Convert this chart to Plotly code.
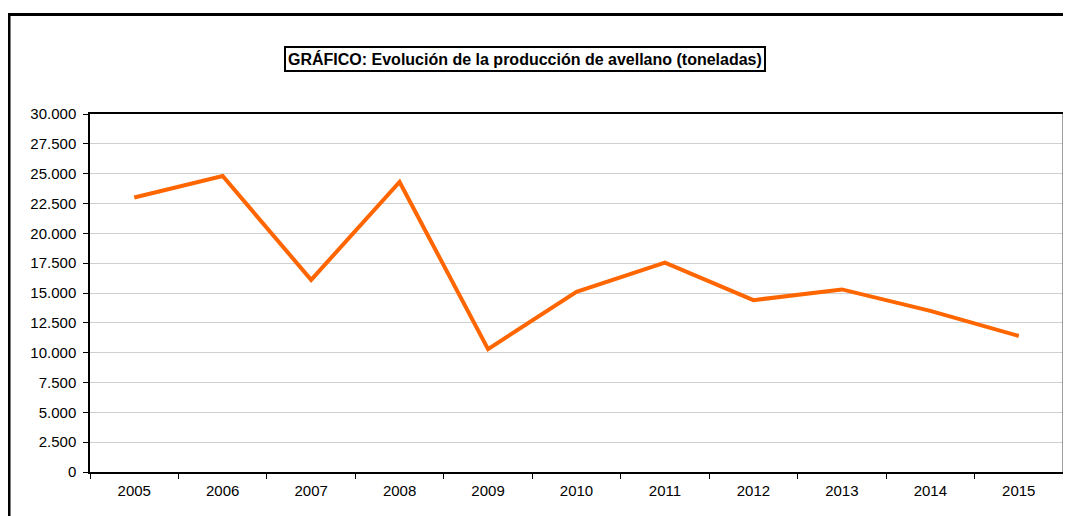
import plotly.graph_objects as go

years = ["2005", "2006", "2007", "2008", "2009", "2010", "2011", "2012", "2013", "2014", "2015"]
production = [23000, 24800, 16100, 24300, 10300, 15100, 17550, 14400, 15300, 13500, 11400]
title_text = "GRÁFICO: Evolución de la producción de avellano (toneladas)"

# the page body has an 8px margin, so the figure starts at (8, 8) on screen
OFF = 8
W, H = 1071, 516
L, T = 90 - OFF, 114 - OFF
R = W - (1063 - OFF)
B = H - (472 - OFF)
pw = W - L - R
ph = H - T - B

def px_x(x):
    return (x - OFF - L) / pw

def px_y(y):
    return 1 - (y - OFF - T) / ph

fig = go.Figure()
fig.add_trace(go.Scatter(
    x=years, y=production, mode="lines",
    line=dict(color="#FF6600", width=4),
    hoverinfo="x+y",
))

fig.update_layout(
    width=W, height=H,
    margin=dict(l=L, r=R, t=T, b=B, pad=0),
    paper_bgcolor="white", plot_bgcolor="white",
    font=dict(family="Liberation Sans, Arial, sans-serif", size=15, color="black"),
    separators=",.",
    showlegend=False,
    xaxis=dict(
        type="category", tickson="boundaries",
        showline=True, linecolor="black", linewidth=1.5, mirror=True,
        ticks="outside", ticklen=5, tickcolor="black",
        showgrid=False, zeroline=False,
        range=[-0.5, 10.5], ticklabelstandoff=4,
    ),
    yaxis=dict(
        range=[0, 30000], dtick=2500, tickformat=",d",
        showline=True, linecolor="black", linewidth=1.5,
        ticks="outside", ticklen=5, tickcolor="black",
        showgrid=True, gridcolor="#cfcfcf", gridwidth=1,
        zeroline=False, ticklabelstandoff=4,
    ),
    annotations=[dict(
        text="<b>" + title_text + "</b>",
        xref="paper", yref="paper",
        x=px_x(525), y=px_y(59), xanchor="center", yanchor="middle",
        showarrow=False,
        font=dict(size=16, color="black"),
        bordercolor="black", borderwidth=2, borderpad=2, bgcolor="white",
    )],
    shapes=[
        dict(type="line", xref="paper", yref="paper", x0=1, x1=1, y0=0, y1=1,
             line=dict(color="#808080", width=1.5)),
        dict(type="rect", xref="paper", yref="paper",
             x0=px_x(9), x1=px_x(1100), y0=px_y(14.5), y1=px_y(560),
             line=dict(color="black", width=3), layer="above"),
    ],
)

fig.write_html(
    "out.html",
    post_script="document.documentElement.style.overflow='hidden';document.body.style.overflow='hidden';",
)
